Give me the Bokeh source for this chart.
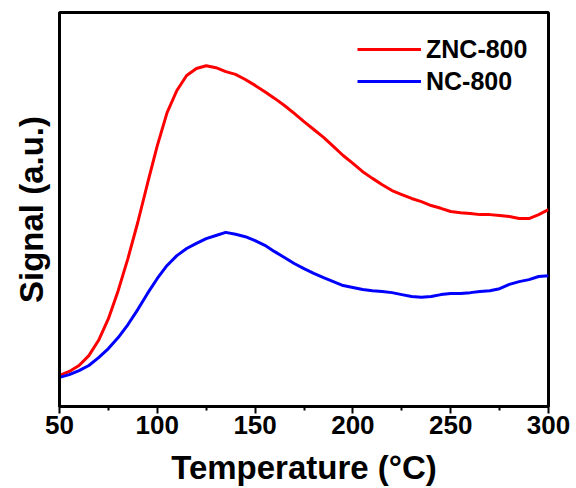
from bokeh.plotting import figure
from bokeh.models import Range1d, Legend, LegendItem, FixedTicker
from bokeh.embed import file_html
from bokeh.resources import INLINE

temperature = [50, 55, 60, 65, 70, 75, 80, 85, 90, 95, 100, 105, 110, 115, 120, 125,
               130, 135, 140, 145, 150, 155, 160, 165, 170, 175, 180, 185, 190, 195,
               200, 205, 210, 215, 220, 225, 230, 235, 240, 245, 250, 255, 260, 265,
               270, 275, 280, 285, 290, 295, 300]

znc_800 = [7.9, 8.9, 10.4, 12.9, 16.8, 22.3, 29.4, 37.6, 46.7, 56.6, 66.2, 74.6, 80.2,
           84.0, 85.8, 86.5, 86.0, 85.0, 84.3, 83.0, 81.5, 79.9, 78.2, 76.4, 74.4, 72.3,
           70.3, 68.3, 66.0, 63.7, 61.7, 59.6, 57.9, 56.3, 54.8, 53.8, 52.8, 52.0, 51.0,
           50.3, 49.5, 49.2, 49.0, 48.7, 48.7, 48.5, 48.2, 47.7, 47.7, 48.7, 50.0]

nc_800 = [7.4, 8.1, 9.1, 10.4, 12.4, 14.7, 17.5, 20.8, 24.6, 28.7, 32.5, 35.8, 38.3,
          40.1, 41.4, 42.6, 43.4, 44.2, 43.7, 43.1, 42.1, 40.9, 39.3, 37.8, 36.3, 35.0,
          33.8, 32.7, 31.7, 30.7, 30.2, 29.7, 29.4, 29.2, 28.9, 28.4, 27.9, 27.7, 27.9,
          28.4, 28.7, 28.7, 28.9, 29.2, 29.4, 29.9, 31.0, 31.7, 32.2, 33.0, 33.2]

x_ticks = [50, 100, 150, 200, 250, 300]
x_minor_ticks = [75, 125, 175, 225, 275]
series_names = ["ZNC-800", "NC-800"]
series_colors = ["#ff0000", "#0000ff"]

FONT = "Liberation Sans"

p = figure(width=576, height=488, output_backend="svg", toolbar_location=None,
           x_range=Range1d(50, 300), y_range=Range1d(0, 100),
           min_border_left=59, min_border_right=28, min_border_top=12,
           min_border_bottom=82)
p.grid.visible = False
p.outline_line_color = "black"
p.outline_line_width = 3
p.background_fill_color = "white"
p.border_fill_color = "white"

r1 = p.line(temperature, znc_800, line_color=series_colors[0], line_width=3)
r2 = p.line(temperature, nc_800, line_color=series_colors[1], line_width=3)

xa = p.xaxis[0]
xa.ticker = FixedTicker(ticks=x_ticks, minor_ticks=x_minor_ticks)
xa.axis_line_width = 3
xa.major_tick_line_width = 2
xa.minor_tick_line_width = 2
xa.major_tick_out = 7
xa.major_tick_in = 0
xa.minor_tick_out = 4
xa.minor_tick_in = 0
xa.major_label_text_font = FONT
xa.major_label_text_font_style = "bold"
xa.major_label_text_font_size = "26px"
xa.major_label_text_color = "black"
xa.major_label_standoff = 2
xa.axis_label = "Temperature (\u00b0C)"
xa.axis_label_text_font = FONT
xa.axis_label_text_font_style = "bold"
xa.axis_label_text_font_size = "33px"
xa.axis_label_text_color = "black"
xa.axis_label_standoff = 12

ya = p.yaxis[0]
ya.ticker = FixedTicker(ticks=[])
ya.axis_line_width = 3
ya.major_tick_line_color = None
ya.minor_tick_line_color = None
ya.major_tick_out = 0
ya.major_tick_in = 0
ya.minor_tick_out = 0
ya.major_label_standoff = 0
ya.axis_label = "Signal (a.u.)"
ya.axis_label_text_font = FONT
ya.axis_label_text_font_style = "bold"
ya.axis_label_text_font_size = "33px"
ya.axis_label_text_color = "black"
ya.axis_label_standoff = 10

legend = Legend(items=[LegendItem(label=series_names[0], renderers=[r1]),
                       LegendItem(label=series_names[1], renderers=[r2])],
                location=(298, 310))
legend.border_line_alpha = 0
legend.background_fill_alpha = 0
legend.padding = 0
legend.margin = 0
legend.spacing = 2
legend.glyph_width = 64
legend.glyph_height = 30
legend.label_height = 30
legend.label_standoff = 5
legend.label_text_font = FONT
legend.label_text_font_style = "bold"
legend.label_text_font_size = "25px"
legend.label_text_color = "black"
p.add_layout(legend, "center")

open("out.html", "w").write(file_html(p, INLINE))
